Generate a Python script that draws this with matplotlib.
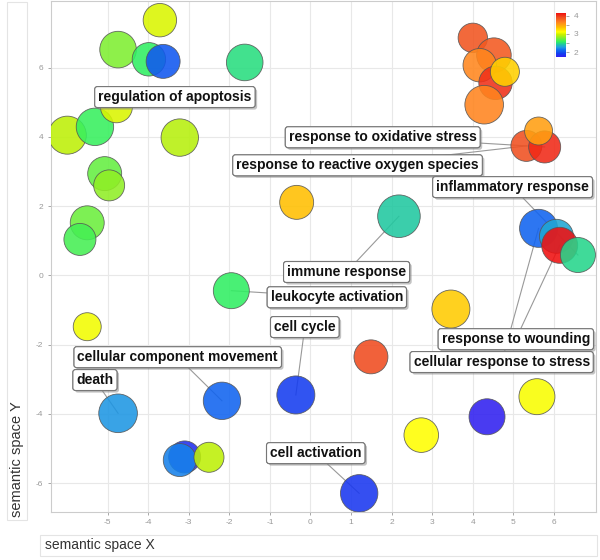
import numpy as np
import matplotlib
matplotlib.use("Agg")
import matplotlib.pyplot as plt
import matplotlib.patheffects as pe
from matplotlib.colors import LinearSegmentedColormap, Normalize
from matplotlib.cm import ScalarMappable
from matplotlib.patches import Rectangle

plt.rcParams['font.family'] = ['Liberation Sans', 'DejaVu Sans']
plt.rcParams['axes.unicode_minus'] = False

# semantic space coordinates of the GO terms (drawing order)
plot_x = [-3.71, -4.74, -3.98, -3.63, -1.62, -5.99, -5.31, -4.78, -3.22, -5.07,
          -4.96, -5.50, -5.68, -0.34, 4.00, 4.52, 4.17, 4.56, 4.79, 4.28,
          5.32, 5.77, 5.62, 2.18, 5.62, 6.06, 6.14, 6.59, -1.95, -5.50,
          -4.74, -2.18, -0.36, -3.10, -3.22, -2.50, 3.46, 1.49, 5.58, 4.35,
          2.73, 1.20]
plot_y = [7.37, 6.52, 6.24, 6.18, 6.15, 4.05, 4.29, 4.87, 3.98, 2.94,
          2.60, 1.52, 1.04, 2.11, 6.86, 6.36, 6.07, 5.56, 5.88, 4.93,
          3.74, 3.71, 4.17, 1.71, 1.36, 1.13, 0.87, 0.59, -0.44, -1.48,
          -3.98, -3.62, -3.45, -5.24, -5.33, -5.25, -0.97, -2.35, -3.50, -4.08,
          -4.61, -6.29]
# log10 term size
log_size = [3.80, 4.16, 3.80, 3.86, 4.16, 4.32, 4.25, 3.64, 4.25, 3.86,
            3.52, 3.86, 3.64, 3.86, 3.34, 3.93, 3.80, 3.80, 3.30, 4.39,
            3.52, 3.64, 3.18, 4.84, 4.32, 3.86, 4.09, 3.98, 4.09, 3.18,
            4.39, 4.25, 4.32, 3.64, 3.75, 3.41, 4.32, 3.86, 4.09, 4.09,
            3.93, 4.25]
# -log10 p-value (colour)
log10_p = [3.00, 2.75, 2.55, 2.00, 2.48, 2.92, 2.57, 3.00, 2.90, 2.68,
           2.80, 2.70, 2.60, 3.35, 3.88, 3.85, 3.62, 4.02, 3.28, 3.63,
           3.90, 4.05, 3.50, 2.40, 2.05, 2.28, 4.15, 2.45, 2.55, 3.06,
           2.22, 2.05, 1.88, 1.80, 2.15, 2.92, 3.30, 3.92, 3.08, 1.70,
           3.10, 1.85]

label_names = ['regulation of apoptosis', 'response to oxidative stress',
               'response to reactive oxygen species', 'inflammatory response',
               'immune response', 'leukocyte activation', 'cell cycle',
               'cellular component movement', 'death', 'response to wounding',
               'cellular response to stress', 'cell activation']
label_x = [-3.34, 1.78, 1.16, 4.98, 0.89, 0.65, -0.14, -3.27, -5.31, 5.06, 4.71, 0.13]
label_y = [5.15, 3.99, 3.18, 2.55, 0.10, -0.63, -1.49, -2.36, -3.02, -1.84, -2.50, -5.13]
label_term = [7, 21, 20, 27, 23, 28, 32, 31, 30, 26, 24, 41]

cmap = LinearSegmentedColormap.from_list('revigo', [
    (0.000, '#3020f0'), (0.082, '#1040f0'), (0.163, '#1070f0'),
    (0.224, '#20a0e0'), (0.286, '#20c8a0'), (0.347, '#30f060'),
    (0.429, '#80ee30'), (0.510, '#c8f000'), (0.571, '#ffff00'),
    (0.673, '#ffc000'), (0.796, '#ff8020'), (0.898, '#f05020'),
    (1.000, '#f01010')])
norm = Normalize(vmin=1.70, vmax=4.15)

fig = plt.figure(figsize=(6, 5.6), dpi=100)
ax = fig.add_axes([0.0845, 0.0863, 0.9085, 0.9117])

radius_px = 4.4 * np.array(log_size)
sizes = (radius_px * 2 * 0.72) ** 2
ax.scatter(plot_x, plot_y, s=sizes, c=log10_p, cmap=cmap, norm=norm,
           alpha=0.88, edgecolors='#555555', linewidths=0.6, zorder=3)

# leader lines and labels
for name, lx, ly, t in zip(label_names, label_x, label_y, label_term):
    ax.plot([lx, plot_x[t]], [ly, plot_y[t]], color='#999999', lw=0.8, zorder=2)
    txt = ax.text(lx, ly, name, ha='center', va='center', fontsize=10,
                  fontweight='bold', color='#111111', zorder=5,
                  bbox=dict(boxstyle='round,pad=0.25,rounding_size=0.2',
                            fc='white', ec='#777777', lw=0.8))
    txt.get_bbox_patch().set_path_effects([
        pe.withSimplePatchShadow(offset=(1.5, -1.5), shadow_rgbFace='#888888', alpha=0.5),
        pe.Normal()])

ax.set_xlim(-6.40, 7.03)
ax.set_ylim(-6.82, 7.92)
ax.set_xticks(np.arange(-5, 7, 1))
ax.set_yticks(np.arange(-6, 7, 2))
ax.grid(True, color='#e8e8e8', lw=0.8, zorder=0)
ax.set_axisbelow(True)
ax.tick_params(labelsize=6, colors='#999999', length=2, width=0.6)
for sp in ax.spines.values():
    sp.set_color('#cccccc')
    sp.set_linewidth(0.8)

# axis title boxes
fig.patches.append(Rectangle((7 / 600, 1 - 520 / 560), 20 / 600, 518 / 560,
                             transform=fig.transFigure, fc='white', ec='#e4e4e4', lw=0.8))
fig.text(17 / 600, 1 - 517 / 560, 'semantic space Y', rotation=90, ha='center',
         va='bottom', fontsize=10.5, color='#333333')
fig.patches.append(Rectangle((40 / 600, 1 - 556 / 560), 557 / 600, 21 / 560,
                             transform=fig.transFigure, fc='white', ec='#e4e4e4', lw=0.8))
fig.text(45 / 600, 1 - 545.5 / 560, 'semantic space X', ha='left', va='center',
         fontsize=10, color='#333333')

# colour scale
cax = fig.add_axes([556 / 600, 1 - 57 / 560, 10 / 600, 44 / 560])
cb = fig.colorbar(ScalarMappable(norm=Normalize(1.74, 4.15), cmap=cmap), cax=cax, ticks=[2, 3, 4])
cb.outline.set_visible(False)
cb.ax.set_yticks([2.5, 3.5], minor=True)
cb.ax.tick_params(labelsize=6, colors='#999999', length=2, width=0.6, which='both')

fig.savefig('out.png', dpi=100)
